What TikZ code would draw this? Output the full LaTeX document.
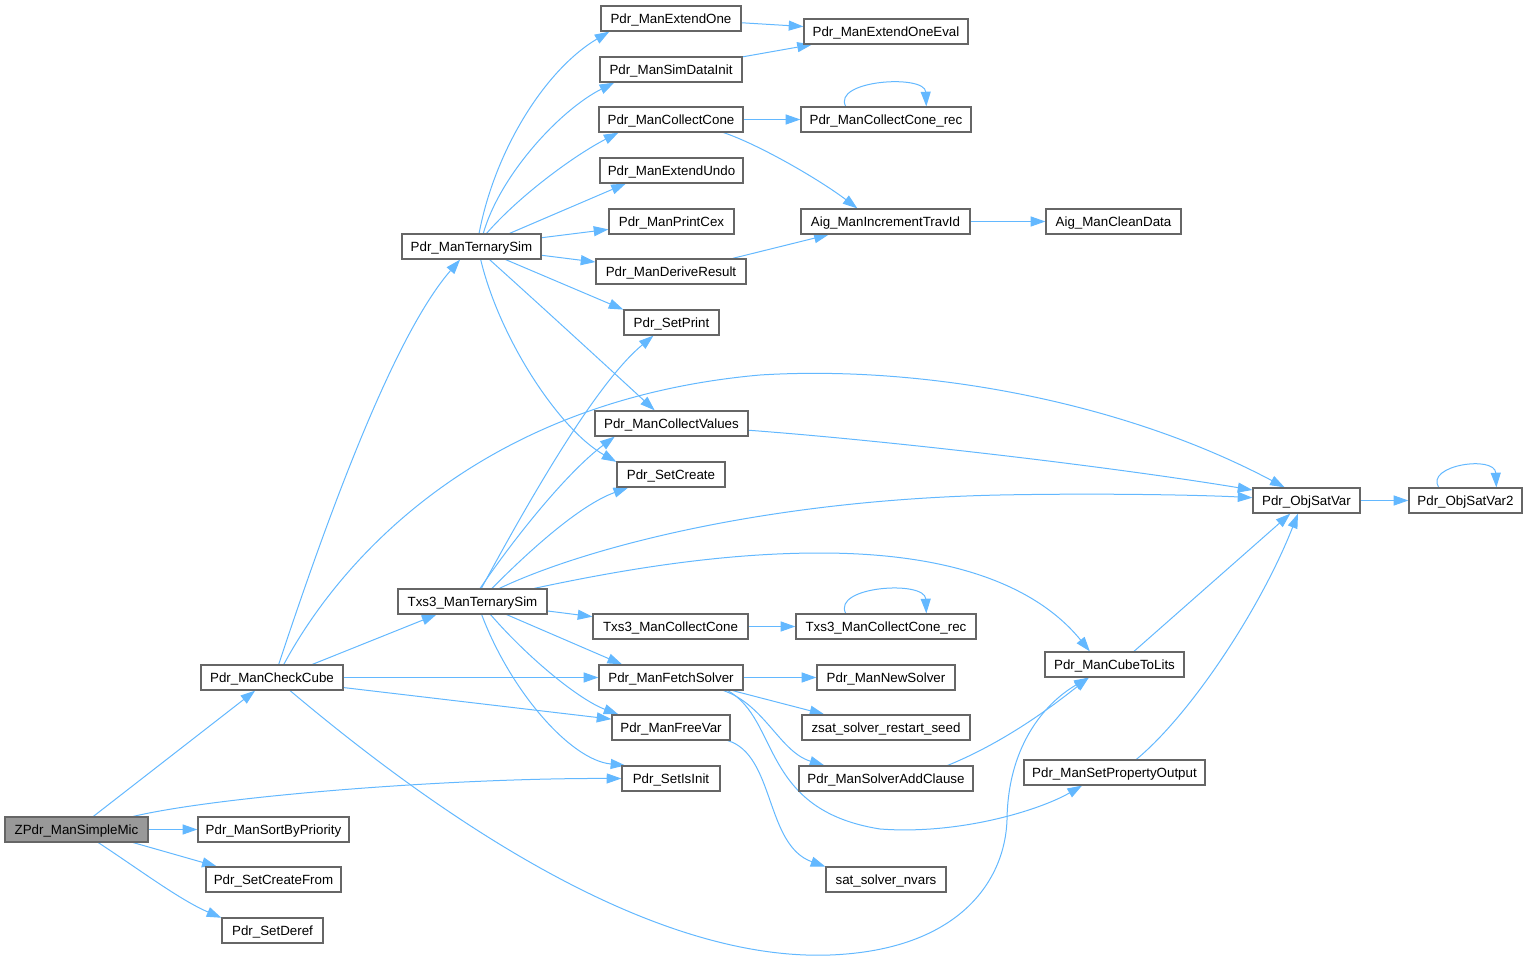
\documentclass[tikz,border=0pt]{standalone}
\usepackage{fontspec}
\setmainfont{Liberation Sans}
\usetikzlibrary{arrows.meta,backgrounds}
\definecolor{edgeblue}{HTML}{63B8FF}
\definecolor{boxgray}{HTML}{666666}
\definecolor{hlgray}{HTML}{999999}
\begin{document}
\begin{tikzpicture}[x=0.75pt,y=-0.75pt,
  box/.style={draw=boxgray, fill=white, line width=0.9pt, minimum height=18.75pt,
    inner xsep=2pt, inner ysep=0pt, text height=7.16pt, text depth=0pt,
    font=\fontsize{10}{12}\selectfont},
  bw/.style={minimum width=#1},
  conn/.style={draw=edgeblue, line width=0.75pt, -{Triangle[length=11pt,width=7.5pt]}}]
\useasboundingbox (0,0) rectangle (1528,963);

\node[box,bw=107.25pt,fill=hlgray] (zp) at (76.5,829.5) {ZPdr\_ManSimpleMic};
\node[box,bw=113.25pt] (sp) at (273.5,829.5) {Pdr\_ManSortByPriority};
\node[box,bw=101.25pt] (scf) at (273.5,879.5) {Pdr\_SetCreateFrom};
\node[box,bw=75.75pt] (sd) at (272.5,930.5) {Pdr\_SetDeref};
\node[box,bw=106.5pt] (cc) at (272,677.5) {Pdr\_ManCheckCube};
\node[box,bw=104.25pt] (ts) at (471.5,246.5) {Pdr\_ManTernarySim};
\node[box,bw=111.75pt] (txs) at (472.5,601.5) {Txs3\_ManTernarySim};
\node[box,bw=105pt] (eo) at (671,18.5) {Pdr\_ManExtendOne};
\node[box,bw=106.5pt] (sdi) at (671,69.5) {Pdr\_ManSimDataInit};
\node[box,bw=108pt] (pcc) at (671,119.5) {Pdr\_ManCollectCone};
\node[box,bw=107.25pt] (eu) at (671.5,170.5) {Pdr\_ManExtendUndo};
\node[box,bw=93.75pt] (pc) at (671.5,221.5) {Pdr\_ManPrintCex};
\node[box,bw=112.5pt] (dr) at (671,271.5) {Pdr\_ManDeriveResult};
\node[box,bw=71.25pt] (sp2) at (671.5,322.5) {Pdr\_SetPrint};
\node[box,bw=114.75pt] (pcv) at (671.5,423.5) {Pdr\_ManCollectValues};
\node[box,bw=81pt] (psc) at (671,474.5) {Pdr\_SetCreate};
\node[box,bw=116.25pt] (tcc) at (670.5,626.5) {Txs3\_ManCollectCone};
\node[box,bw=108pt] (fs) at (671,677.5) {Pdr\_ManFetchSolver};
\node[box,bw=88.5pt] (fv) at (671,727.5) {Pdr\_ManFreeVar};
\node[box,bw=73.5pt] (si) at (671,778.5) {Pdr\_SetIsInit};
\node[box,bw=123pt] (eoe) at (886,31.5) {Pdr\_ManExtendOneEval};
\node[box,bw=127.5pt] (pccr) at (886,119.5) {Pdr\_ManCollectCone\_rec};
\node[box,bw=126.75pt] (ait) at (885.5,221.5) {Aig\_ManIncrementTravId};
\node[box,bw=101.25pt] (acd) at (1113.5,221.5) {Aig\_ManCleanData};
\node[box,bw=135pt] (tccr) at (886,626.5) {Txs3\_ManCollectCone\_rec};
\node[box,bw=103.5pt] (ns) at (886,677.5) {Pdr\_ManNewSolver};
\node[box,bw=126pt] (zs) at (886,727.5) {zsat\_solver\_restart\_seed};
\node[box,bw=130.5pt] (sac) at (886,778.5) {Pdr\_ManSolverAddClause};
\node[box,bw=90pt] (ssn) at (886,879.5) {sat\_solver\_nvars};
\node[box,bw=104.25pt] (ctl) at (1114.5,664.5) {Pdr\_ManCubeToLits};
\node[box,bw=135.75pt] (spo) at (1114.5,772.5) {Pdr\_ManSetPropertyOutput};
\node[box,bw=80.25pt] (osv) at (1306.5,500.5) {Pdr\_ObjSatVar};
\node[box,bw=84.75pt] (osv2) at (1465.5,500.5) {Pdr\_ObjSatVar2};

\begin{scope}[on background layer]
\draw[conn] (zp) -- (cc);
\draw[conn] (zp.13) .. controls (220,796) and (450,778) .. (si.180);
\draw[conn] (zp) -- (sp);
\draw[conn] (zp.-13) -- (scf.167);
\draw[conn] (zp.-31) .. controls (140,870) and (180,900) .. (sd.166);

\draw[conn] (cc.63) .. controls (320,540) and (390,340) .. (ts.229);
\draw[conn] (cc.48) .. controls (340,560) and (480,400) .. (760,375) .. controls (920,365) and (1120,400) .. (osv.149);
\draw[conn] (cc.18) -- (txs.200);
\draw[conn] (cc) -- (fs);
\draw[conn] (cc.-8) -- (fv.172);
\draw[conn] (cc.-36) .. controls (420,800) and (640,962) .. (830,955) .. controls (960,950) and (1005,880) .. (1007,820) .. controls (1008,740) and (1050,700) .. (ctl.207);

\draw[conn] (ts.60) .. controls (495,150) and (545,70) .. (eo.192);
\draw[conn] (ts.48) .. controls (500,175) and (560,110) .. (sdi.193);
\draw[conn] (ts.41) .. controls (520,195) and (575,155) .. (pcc.194);
\draw[conn] (ts.19) -- (eu.196);
\draw[conn] (ts) -- (pc);
\draw[conn] (ts) -- (dr);
\draw[conn] (ts.-21) -- (sp2.165);
\draw[conn] (ts.-36) .. controls (540,305) and (600,360) .. (pcv.142);
\draw[conn] (ts.-55) .. controls (500,340) and (560,430) .. (psc.167);

\draw[conn] (pcc) -- (pccr);
\draw[conn] (pcc.-14) .. controls (760,145) and (820,180) .. (ait.155);
\draw[conn] (pccr.162) .. controls (832,80) and (925,74) .. (pccr.18);
\draw[conn] (dr.12) -- (ait.193);
\draw[conn] (ait) -- (acd);
\draw[conn] (eo) -- (eoe);
\draw[conn] (sdi) -- (eoe);

\draw[conn] (txs.56) .. controls (540,480) and (600,380) .. (sp2.216);
\draw[conn] (txs.60) .. controls (520,530) and (570,470) .. (pcv.193);
\draw[conn] (txs.34) .. controls (530,550) and (580,505) .. (psc.197);
\draw[conn] (txs.26) .. controls (580,550) and (760,500) .. (1000,495) .. controls (1100,493) and (1200,495) .. (osv.177);
\draw[conn] (txs.12) .. controls (620,570) and (720,553) .. (820,553) .. controls (960,553) and (1040,590) .. (ctl.152);
\draw[conn] (txs) -- (tcc);
\draw[conn] (txs.-21) -- (fs.165);
\draw[conn] (txs.-36) .. controls (530,660) and (580,700) .. (fv.166);
\draw[conn] (txs.-55) .. controls (510,690) and (570,760) .. (si.164);

\draw[conn] (pcv.-5) .. controls (880,440) and (1100,465) .. (osv.169);
\draw[conn] (tcc) -- (tccr);
\draw[conn] (tccr.162) .. controls (832,586) and (925,580) .. (tccr.18);
\draw[conn] (fs) -- (ns);
\draw[conn] (fs.-12) -- (zs.168);
\draw[conn] (fs.-14) .. controls (765,705) and (780,752) .. (sac.168);
\draw[conn] (fs.-13) .. controls (780,720) and (760,810) .. (880,829) .. controls (960,835) and (1040,810) .. (spo.202);
\draw[conn] (fv.-13) .. controls (775,755) and (765,845) .. (ssn.168);
\draw[conn] (sac.12) .. controls (1010,740) and (1060,700) .. (ctl.207);
\draw[conn] (ctl.34) -- (osv.219);
\draw[conn] (spo.31) .. controls (1190,715) and (1260,610) .. (osv.237);
\draw[conn] (osv) -- (osv2);
\draw[conn] (osv2.154) .. controls (1425,465) and (1495,455) .. (osv2.23);
\end{scope}
\end{tikzpicture}
\end{document}
